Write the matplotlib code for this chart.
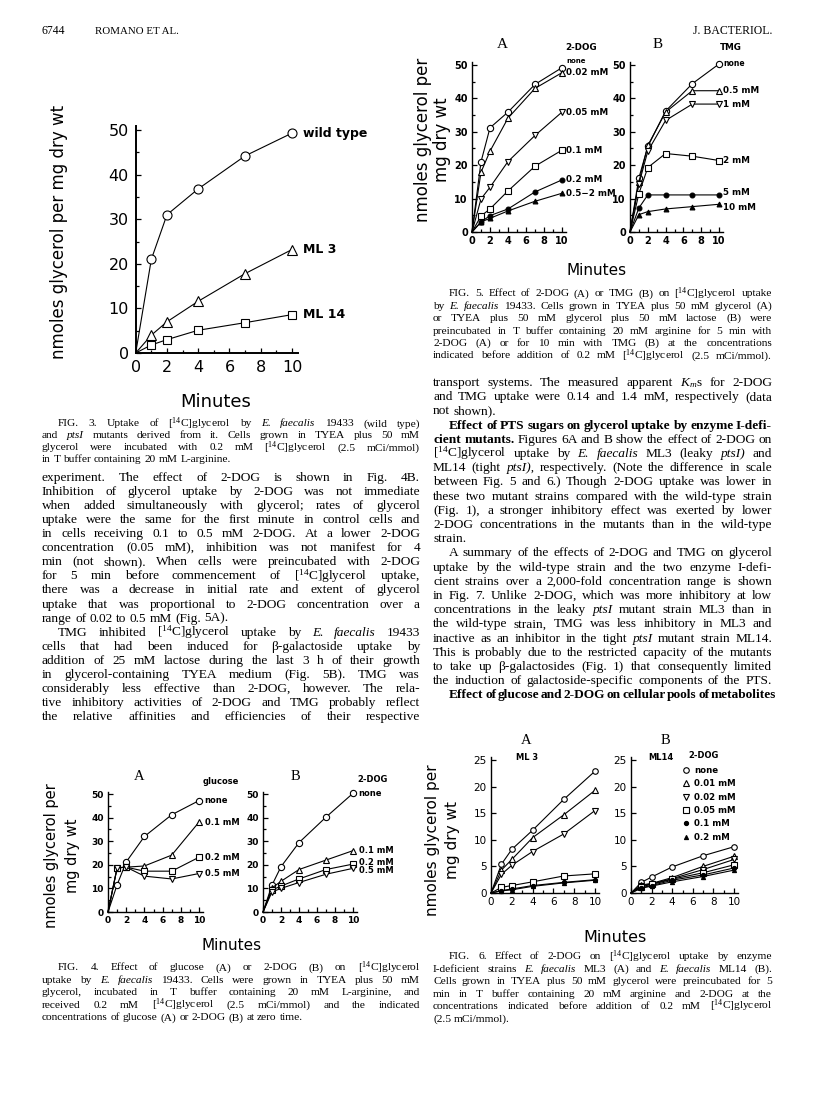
import matplotlib
matplotlib.use("Agg")
import matplotlib.pyplot as plt
from matplotlib.lines import Line2D

plt.rcParams['mathtext.fontset'] = 'custom'
plt.rcParams['mathtext.rm'] = 'Liberation Serif'
plt.rcParams['mathtext.it'] = 'Liberation Serif:italic'
plt.rcParams['mathtext.bf'] = 'Liberation Serif:bold'
plt.rcParams['font.family'] = ['DejaVu Sans']

# ---- data ----
minutes = [0, 1, 2, 4, 7, 10]

# Fig 3
f3_wild = [0, 21.0, 31.0, 36.8, 44.2, 49.3]
f3_ml3 = [0, 4.0, 7.0, 11.6, 17.8, 23.2]
f3_ml14 = [0, 1.8, 3.0, 5.1, 6.8, 8.6]

# Fig 4A glucose
f4a_labels = ["none", "0.1 mM", "0.2 mM", "0.5 mM"]
f4a_none = [0, 11.5, 21.2, 32.0, 41.2, 47.2]
f4a_01 = [0, 18.7, 19.0, 19.5, 24.1, 38.1]
f4a_02 = [0, 18.7, 19.0, 17.3, 17.3, 23.2]
f4a_05 = [0, 18.7, 19.0, 15.2, 14.0, 16.3]
# Fig 4B 2-DOG
f4b_none = [0, 11.4, 19.2, 29.4, 40.2, 50.3]
f4b_01 = [0, 10.2, 13.0, 18.0, 22.0, 26.0]
f4b_02 = [0, 9.3, 11.0, 14.0, 18.0, 20.3]
f4b_05 = [0, 8.5, 10.0, 12.5, 16.0, 18.5]

# Fig 5A 2-DOG
f5a_labels = ["none", "0.02 mM", "0.05 mM", "0.1 mM", "0.2 mM", "0.5\u22122 mM"]
f5a_none = [0, 21.0, 31.2, 35.9, 44.2, 49.2]
f5a_002 = [0, 17.9, 24.2, 34.1, 43.0, 47.7]
f5a_005 = [0, 9.9, 13.4, 21.1, 28.9, 35.9]
f5a_01 = [0, 4.8, 6.9, 12.3, 19.7, 24.5]
f5a_02 = [0, 3.0, 4.9, 6.9, 12.0, 15.6]
f5a_05 = [0, 3.0, 4.1, 6.3, 9.2, 11.6]
# Fig 5B TMG
f5b_labels = ["none", "0.5 mM", "1 mM", "2 mM", "5 mM", "10 mM"]
f5b_none = [0, 16.2, 25.6, 36.2, 44.4, 50.3]
f5b_05 = [0, 15.0, 25.9, 35.9, 42.3, 42.3]
f5b_1 = [0, 14.4, 24.2, 33.4, 38.3, 38.3]
f5b_2 = [0, 11.5, 19.3, 23.5, 22.7, 21.4]
f5b_5 = [0, 7.2, 11.1, 11.1, 11.1, 11.1]
f5b_10 = [0, 5.2, 6.1, 6.9, 7.6, 8.3]

# Fig 6 2-DOG
f6_labels = ["none", "0.01 mM", "0.02 mM", "0.05 mM", "0.1 mM", "0.2 mM"]
f6a_none = [0, 5.4, 8.2, 11.8, 17.6, 22.9]
f6a_001 = [0, 4.3, 6.3, 10.4, 14.7, 19.3]
f6a_002 = [0, 3.5, 5.2, 7.8, 11.1, 15.5]
f6a_005 = [0, 1.06, 1.4, 2.1, 3.2, 3.6]
f6a_01 = [0, 0.45, 0.75, 1.4, 2.0, 2.5]
f6a_02 = [0, 0.4, 0.6, 1.25, 1.9, 2.4]
f6b_none = [0, 2.0, 3.0, 4.9, 7.0, 8.7]
f6b_001 = [0, 1.5, 1.8, 2.9, 5.0, 6.9]
f6b_002 = [0, 1.4, 1.7, 2.7, 4.4, 6.3]
f6b_005 = [0, 1.2, 1.6, 2.6, 3.8, 5.3]
f6b_01 = [0, 1.0, 1.4, 2.4, 3.4, 4.7]
f6b_02 = [0, 0.9, 1.3, 2.1, 3.1, 4.3]

# ---- text of the page ----
cap3 = [">FIG. 3. Uptake of [$^{14}$C]glycerol by _E. _faecalis 19433 (wild type)",
        "and _ptsI mutants derived from it. Cells grown in TYEA plus 50 mM",
        "glycerol were incubated with 0.2 mM [$^{14}$C]glycerol (2.5 mCi/mmol)",
        "in T buffer containing 20 mM L-arginine.|"]
cap4 = [">FIG. 4. Effect of glucose (A) or 2-DOG (B) on [$^{14}$C]glycerol",
        "uptake by _E. _faecalis 19433. Cells were grown in TYEA plus 50 mM",
        "glycerol, incubated in T buffer containing 20 mM L-arginine, and",
        "received 0.2 mM [$^{14}$C]glycerol (2.5 mCi/mmol) and the indicated",
        "concentrations of glucose (A) or 2-DOG (B) at zero time.|"]
cap5 = [">FIG. 5. Effect of 2-DOG (A) or TMG (B) on [$^{14}$C]glycerol uptake",
        "by _E. _faecalis 19433. Cells grown in TYEA plus 50 mM glycerol (A)",
        "or TYEA plus 50 mM glycerol plus 50 mM lactose (B) were",
        "preincubated in T buffer containing 20 mM arginine for 5 min with",
        "2-DOG (A) or for 10 min with TMG (B) at the concentrations",
        "indicated before addition of 0.2 mM [$^{14}$C]glycerol (2.5 mCi/mmol)."]
cap6 = [">FIG. 6. Effect of 2-DOG on [$^{14}$C]glycerol uptake by enzyme",
        "I-deficient strains _E. _faecalis ML3 (A) and _E. _faecalis ML14 (B).",
        "Cells grown in TYEA plus 50 mM glycerol were preincubated for 5",
        "min in T buffer containing 20 mM arginine and 2-DOG at the",
        "concentrations indicated before addition of 0.2 mM [$^{14}$C]glycerol",
        "(2.5 mCi/mmol).|"]

left_body = ["experiment. The effect of 2-DOG is shown in Fig. 4B.",
             "Inhibition of glycerol uptake by 2-DOG was not immediate",
             "when added simultaneously with glycerol; rates of glycerol",
             "uptake were the same for the first minute in control cells and",
             "in cells receiving 0.1 to 0.5 mM 2-DOG. At a lower 2-DOG",
             "concentration (0.05 mM), inhibition was not manifest for 4",
             "min (not shown). When cells were preincubated with 2-DOG",
             "for 5 min before commencement of [$^{14}$C]glycerol uptake,",
             "there was a decrease in initial rate and extent of glycerol",
             "uptake that was proportional to 2-DOG concentration over a",
             "range of 0.02 to 0.5 mM (Fig. 5A).|",
             ">TMG inhibited [$^{14}$C]glycerol uptake by _E. _faecalis 19433",
             "cells that had been induced for \u03b2-galactoside uptake by",
             "addition of 25 mM lactose during the last 3 h of their growth",
             "in glycerol-containing TYEA medium (Fig. 5B). TMG was",
             "considerably less effective than 2-DOG, however. The rela-",
             "tive inhibitory activities of 2-DOG and TMG probably reflect",
             "the relative affinities and efficiencies of their respective"]

right_body = ["transport systems. The measured apparent $K_m$s for 2-DOG",
              "and TMG uptake were 0.14 and 1.4 mM, respectively (data",
              "not shown).|",
              ">*Effect *of *PTS *sugars *on *glycerol *uptake *by *enzyme *I-defi-",
              "*cient *mutants. Figures 6A and B show the effect of 2-DOG on",
              "[$^{14}$C]glycerol uptake by _E. _faecalis ML3 (leaky _ptsI) and",
              "ML14 (tight _ptsI), respectively. (Note the difference in scale",
              "between Fig. 5 and 6.) Though 2-DOG uptake was lower in",
              "these two mutant strains compared with the wild-type strain",
              "(Fig. 1), a stronger inhibitory effect was exerted by lower",
              "2-DOG concentrations in the mutants than in the wild-type",
              "strain.|",
              ">A summary of the effects of 2-DOG and TMG on glycerol",
              "uptake by the wild-type strain and the two enzyme I-defi-",
              "cient strains over a 2,000-fold concentration range is shown",
              "in Fig. 7. Unlike 2-DOG, which was more inhibitory at low",
              "concentrations in the leaky _ptsI mutant strain ML3 than in",
              "the wild-type strain, TMG was less inhibitory in ML3 and",
              "inactive as an inhibitor in the tight _ptsI mutant strain ML14.",
              "This is probably due to the restricted capacity of the mutants",
              "to take up \u03b2-galactosides (Fig. 1) that consequently limited",
              "the induction of galactoside-specific components of the PTS.",
              ">*Effect *of *glucose *and *2-DOG *on *cellular *pools *of *metabolites"]

W, H = 816, 1096
fig = plt.figure(figsize=(W / 100, H / 100), dpi=100)
fig.patch.set_facecolor('white')
renderer = fig.canvas.get_renderer()
SERIF = 'Liberation Serif'

LX0, LX1 = 42, 420     # left text column
RX0, RX1 = 433, 772    # right text column


def fx(x):
    return x / W


def fy(y):
    return 1 - y / H


def put(x, y, s, size, ha='center', va='center', **kw):
    return fig.text(fx(x), fy(y), s, fontsize=size, ha=ha, va=va, **kw)


def text_block(lines, x0, x1, y0, step, size, indent=16):
    for i, line in enumerate(lines):
        y = y0 + i * step + size * 100 / 72 * 0.3
        just = not line.endswith('|')
        line = line.rstrip('|')
        xs = x0
        if line.startswith('>'):
            line = line[1:]
            xs = x0 + indent
        objs = []
        for w in line.split():
            style, weight = 'normal', 'normal'
            if w.startswith('_'):
                w, style = w[1:], 'italic'
            if w.startswith('*'):
                w, weight = w[1:], 'bold'
            objs.append(fig.text(0, fy(y), w, fontsize=size, family=SERIF,
                                 style=style, weight=weight, va='baseline'))
        widths = [t.get_window_extent(renderer).width for t in objs]
        gap = size * 100 / 72 * 0.25
        if just and len(objs) > 1:
            gap = max(1.5, (x1 - xs - sum(widths)) / (len(objs) - 1))
        x = xs
        for t, wd in zip(objs, widths):
            t.set_x(fx(x))
            x += wd + gap


def make_ax(x0, x10, y0, ytop, yval, xmax=10.4, ymax=None, lw=1.0):
    if ymax is None:
        ymax = yval * 1.02
    px = (x10 - x0) / 10.0
    py = (y0 - ytop) / yval
    ax = fig.add_axes([x0 / W, 1 - y0 / H, px * xmax / W, py * ymax / H])
    ax.set_xlim(0, xmax)
    ax.set_ylim(0, ymax)
    ax.spines['top'].set_visible(False)
    ax.spines['right'].set_visible(False)
    ax.spines['left'].set_linewidth(lw)
    ax.spines['bottom'].set_linewidth(lw)
    ax.patch.set_alpha(0)
    return ax


def ticks(ax, ymaj, ymin, size, weight='bold', pad=3):
    ax.set_xticks(range(0, 11, 2))
    ax.set_xticks(range(1, 10, 2), minor=True)
    ax.set_yticks(ymaj)
    ax.set_yticks(ymin, minor=True)
    ax.tick_params(which='both', direction='in', labelsize=size, pad=pad, width=0.9)
    ax.tick_params(which='major', length=3.5)
    ax.tick_params(which='minor', length=2.5)
    for lab in ax.get_xticklabels() + ax.get_yticklabels():
        lab.set_fontweight(weight)


def series(ax, y, marker, filled=False, ms=4, lw=0.8):
    ax.plot(minutes, y, color='black', lw=lw, marker=marker, ms=ms,
            mfc='black' if filled else 'white', mec='black', mew=0.8,
            markevery=list(range(1, len(minutes))), clip_on=False, zorder=3)


def tag(ax, y, s, dx=4, dy=0, size=6, weight='bold'):
    ax.annotate(s, xy=(10, y), xytext=(dx, dy), textcoords='offset points',
                fontsize=size, fontweight=weight, va='center', ha='left',
                annotation_clip=False)


# ---- header ----
put(42, 31, "6744", 8.5, ha='left', family=SERIF)
put(95, 31, "ROMANO ET AL.", 7.8, ha='left', family=SERIF)
put(772, 31, "J. BACTERIOL.", 8.5, ha='right', family=SERIF)

# ---- Fig 3 ----
ax3 = make_ax(135.7, 292, 353, 130, 50, xmax=10.4, ymax=50.8, lw=1.4)
ticks(ax3, range(0, 51, 10), range(5, 50, 10), 11.5, weight='normal', pad=5)
series(ax3, f3_wild, 'o', ms=6.5)
series(ax3, f3_ml3, '^', ms=6.5)
series(ax3, f3_ml14, 's', ms=6)
tag(ax3, f3_wild[-1], "wild type", dx=8, size=9)
tag(ax3, f3_ml3[-1], "ML 3", dx=8, size=9)
tag(ax3, f3_ml14[-1], "ML 14", dx=8, size=9)
put(59, 232, "nmoles glycerol per mg dry wt", 12, rotation=90)
put(216, 402, "Minutes", 13)
text_block(cap3, LX0, LX1, 423, 12, 8.2)
text_block(left_body, LX0, LX1, 477, 14.06, 9.6)

# ---- Fig 5 ----
ax5a = make_ax(472, 562, 232, 65, 50, ymax=51)
ax5b = make_ax(630, 719, 232, 65, 50, ymax=51)
for ax in (ax5a, ax5b):
    ticks(ax, range(0, 51, 10), range(5, 50, 10), 7)
series(ax5a, f5a_none, 'o', ms=4.5)
series(ax5a, f5a_002, '^', ms=4.5)
series(ax5a, f5a_005, 'v', ms=4.5)
series(ax5a, f5a_01, 's', ms=4.5)
series(ax5a, f5a_02, 'o', filled=True, ms=3.5)
series(ax5a, f5a_05, '^', filled=True, ms=3.5)
tag(ax5a, f5a_none[-1], f5a_labels[0], dx=3, dy=5, size=5)
for y, s in zip([f5a_002, f5a_005, f5a_01, f5a_02, f5a_05], f5a_labels[1:]):
    tag(ax5a, y[-1], s, dx=3, size=6.3)
series(ax5b, f5b_none, 'o', ms=4.5)
series(ax5b, f5b_05, '^', ms=4.5)
series(ax5b, f5b_1, 'v', ms=4.5)
series(ax5b, f5b_2, 's', ms=4.5)
series(ax5b, f5b_5, 'o', filled=True, ms=3.5)
series(ax5b, f5b_10, '^', filled=True, ms=3.5)
tag(ax5b, f5b_none[-1], f5b_labels[0], dx=3, size=5.5)
tag(ax5b, f5b_05[-1], f5b_labels[1], dx=3, size=6.3)
tag(ax5b, f5b_1[-1], f5b_labels[2], dx=3, size=6.3)
tag(ax5b, f5b_2[-1], f5b_labels[3], dx=3, size=6.3)
tag(ax5b, f5b_5[-1], f5b_labels[4], dx=3, dy=2, size=6.3)
tag(ax5b, f5b_10[-1], f5b_labels[5], dx=3, dy=-2, size=6.3)
put(502, 45, "A", 11, family=SERIF)
put(581, 48, "2-DOG", 6.3, weight='bold')
put(658, 45, "B", 11, family=SERIF)
put(731, 48, "TMG", 6.3, weight='bold')
put(423, 140, "nmoles glycerol per", 12, rotation=90)
put(442, 140, "mg dry wt", 12, rotation=90)
put(597, 270, "Minutes", 11)
text_block(cap5, RX0, RX1, 293, 12.4, 8.2)
text_block(right_body, RX0, RX1, 382, 14.2, 9.6)

# ---- Fig 4 ----
ax4a = make_ax(108, 199, 912, 794, 50, ymax=51)
ax4b = make_ax(263, 353, 912, 794, 50, ymax=51)
for ax in (ax4a, ax4b):
    ticks(ax, range(0, 51, 10), range(5, 50, 10), 6.5)
series(ax4a, f4a_none, 'o', ms=4.5)
series(ax4a, f4a_01, '^', ms=4.5)
series(ax4a, f4a_02, 's', ms=4.5)
series(ax4a, f4a_05, 'v', ms=4.5)
for y, s in zip([f4a_none, f4a_01, f4a_02, f4a_05], f4a_labels):
    tag(ax4a, y[-1], s, dx=4, size=6)
series(ax4b, f4b_none, 'o', ms=4.5)
series(ax4b, f4b_01, '^', ms=4.5)
series(ax4b, f4b_02, 's', ms=4.5)
series(ax4b, f4b_05, 'v', ms=4.5)
tag(ax4b, f4b_none[-1], "none", dx=4, size=6)
tag(ax4b, f4b_01[-1], "0.1 mM", dx=4, size=6)
tag(ax4b, f4b_02[-1], "0.2 mM", dx=4, dy=1.5, size=6)
tag(ax4b, f4b_05[-1], "0.5 mM", dx=4, dy=-1.5, size=6)
put(139, 776, "A", 10.5, family=SERIF)
put(221, 782, "glucose", 6, weight='bold')
put(295, 776, "B", 10.5, family=SERIF)
put(373, 779, "2-DOG", 6, weight='bold')
put(52, 856, "nmoles glycerol per", 10.5, rotation=90)
put(72, 856, "mg dry wt", 10.5, rotation=90)
put(232, 946, "Minutes", 11)
text_block(cap4, LX0, LX1, 967, 12.5, 8.2)

# ---- Fig 6 ----
ax6a = make_ax(491, 595, 893, 760, 25, ymax=25.5)
ax6b = make_ax(631, 734, 893, 760, 25, ymax=25.5)
for ax in (ax6a, ax6b):
    ticks(ax, range(0, 26, 5), [], 7.5, weight='normal')
mk6 = [('o', False, 4), ('^', False, 4), ('v', False, 4),
       ('s', False, 4), ('o', True, 3), ('^', True, 3)]
for ys, (m, f, s) in zip([f6a_none, f6a_001, f6a_002, f6a_005, f6a_01, f6a_02], mk6):
    series(ax6a, ys, m, filled=f, ms=s)
for ys, (m, f, s) in zip([f6b_none, f6b_001, f6b_002, f6b_005, f6b_01, f6b_02], mk6):
    series(ax6b, ys, m, filled=f, ms=s)
handles = [Line2D([], [], ls='none', marker=m, ms=s, mfc='black' if f else 'white',
                  mec='black', mew=0.8) for m, f, s in mk6]
fig.legend(handles, f6_labels, loc='upper left', bbox_to_anchor=(fx(683), fy(766)),
           frameon=False, prop={'size': 6.2, 'weight': 'bold'}, handlelength=0.8,
           handletextpad=0.5, labelspacing=0.5, borderpad=0, borderaxespad=0)
put(526, 741, "A", 10.5, family=SERIF)
put(527, 757, "ML 3", 6, weight='bold')
put(665, 741, "B", 10.5, family=SERIF)
put(661, 757, "ML14", 6, weight='bold')
put(704, 755, "2-DOG", 6, weight='bold')
put(432, 840, "nmoles glycerol per", 11, rotation=90)
put(452, 840, "mg dry wt", 11, rotation=90)
put(615, 937, "Minutes", 11.5)
text_block(cap6, RX0, RX1, 956, 12.4, 8.2)

fig.savefig("out.png", dpi=100, facecolor='white')
